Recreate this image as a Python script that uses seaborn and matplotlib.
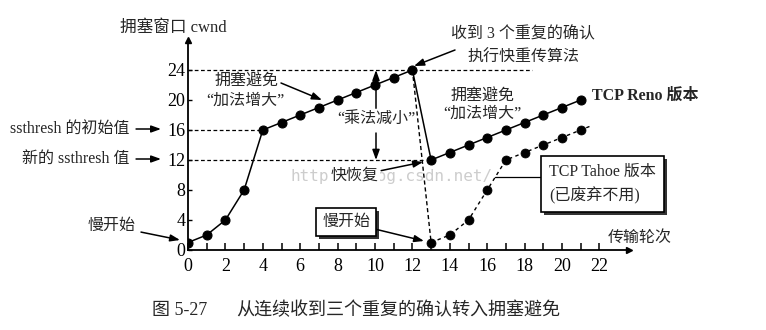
import matplotlib
matplotlib.use("Agg")
import matplotlib.pyplot as plt
from matplotlib.patches import Rectangle
from matplotlib.transforms import IdentityTransform
import seaborn as sns
import numpy as np
import pandas as pd

# ---------------- data ----------------
rounds_reno = list(range(0, 22))
cwnd_reno = [1, 2, 4, 8, 16, 17, 18, 19, 20, 21, 22, 23, 24,
             12, 13, 14, 15, 16, 17, 18, 19, 20]
rounds_tahoe = list(range(13, 22))
cwnd_tahoe = [1, 2, 4, 8, 12, 13, 14, 15, 16]
x_ticks = [0, 2, 4, 6, 8, 10, 12, 14, 16, 18, 20, 22]
y_ticks = [0, 4, 8, 12, 16, 20, 24]
ssthresh_init = 16
ssthresh_new = 12
loss_round = 12

sns.set_theme(style="white")
FONT = ["Liberation Serif", "Noto Sans CJK SC"]
plt.rcParams["font.family"] = FONT
plt.rcParams["axes.unicode_minus"] = False

W, H = 766, 330
fig = plt.figure(figsize=(W / 100, H / 100), dpi=100)
fig.patch.set_facecolor("white")

# pixel mapping: x=0 -> 188px, 18.7 px/unit ; y=0 -> 250px, 7.5 px/unit
X0, SX, Y0, SY = 188, 18.7, 250, 7.5
XMAX, YMAX = 23.6, 28.0
ax = fig.add_axes([X0 / W, (H - Y0) / H, XMAX * SX / W, YMAX * SY / H])
ax.set_facecolor("white")


def px(xp, yp):
    return ((xp - X0) / SX, (Y0 - yp) / SY)


# ---------------- lines ----------------
df_reno = pd.DataFrame({"round": rounds_reno, "cwnd": cwnd_reno})
df_tahoe = pd.DataFrame({"round": rounds_tahoe, "cwnd": cwnd_tahoe})

sns.lineplot(data=df_reno, x="round", y="cwnd", ax=ax, color="black", lw=1.1,
             marker="o", markersize=6.5, mfc="black", mec="black", zorder=5)

# Tahoe: dashed drop from the loss point, then dotted growth
i = rounds_reno.index(loss_round)
df_drop = pd.DataFrame({"round": [rounds_reno[i], rounds_tahoe[0]],
                        "cwnd": [cwnd_reno[i], cwnd_tahoe[0]]})
sns.lineplot(data=df_drop, x="round", y="cwnd", ax=ax, color="black", lw=1.0, zorder=4)
ax.lines[-1].set_linestyle((0, (3, 2)))

ext_x = rounds_tahoe[-1] + 0.6
ext_y = cwnd_tahoe[-1] + 0.6 * (cwnd_tahoe[-1] - cwnd_tahoe[-2])
df_t2 = pd.DataFrame({"round": rounds_tahoe + [ext_x], "cwnd": cwnd_tahoe + [ext_y]})
sns.lineplot(data=df_t2, x="round", y="cwnd", ax=ax, color="black", lw=1.0, zorder=4)
ax.lines[-1].set_linestyle((0, (2.5, 2.5)))
sns.scatterplot(data=df_tahoe, x="round", y="cwnd", ax=ax, color="black",
                s=42, edgecolor="black", zorder=5)

# guide lines
dash = (0, (3, 2))
ax.plot([0, 18.4], [24, 24], color="black", lw=0.9, ls=dash, zorder=2)
ax.plot([0, rounds_reno[4]], [ssthresh_init] * 2, color="black", lw=0.9, ls=dash, zorder=2)
ax.plot([0, 12.6], [ssthresh_new] * 2, color="black", lw=0.9, ls=dash, zorder=2)

# ---------------- axes ----------------
ax.set_xlim(0, XMAX)
ax.set_ylim(0, YMAX)
ax.set_xticks(x_ticks)
ax.set_xticks(range(0, 23), minor=True)
ax.set_yticks(y_ticks)
ax.set_xlabel("")
ax.set_ylabel("")
for s in ["top", "right"]:
    ax.spines[s].set_visible(False)
for s in ["left", "bottom"]:
    ax.spines[s].set_color("black")
    ax.spines[s].set_linewidth(1.3)
ax.tick_params(axis="x", which="both", direction="in", length=5, width=1.1,
               bottom=True, labelsize=13, pad=6, colors="black")
ax.tick_params(axis="y", which="both", direction="in", length=3, width=1.0,
               left=True, labelsize=13, pad=2, colors="black")
ax.plot(1, 0, ">", color="black", ms=5, transform=ax.transAxes, clip_on=False)
ax.plot(0, 1, "^", color="black", ms=5, transform=ax.transAxes, clip_on=False)
ax.grid(False)

FS = 11.5
arrow = dict(arrowstyle="-|>,head_length=0.5,head_width=0.18", color="black",
             lw=1.1, shrinkA=0, shrinkB=0)

# axis labels
ax.text(*px(173, 28), "拥塞窗口 cwnd", ha="center", va="center", fontsize=12,
        family=FONT, clip_on=False)
ax.text(*px(640, 238), "传输轮次", ha="center", va="center", fontsize=FS,
        family=FONT, clip_on=False)

# left annotations
ax.annotate("ssthresh 的初始值", xy=px(161, 129), xytext=px(130, 129),
            ha="right", va="center", fontsize=FS, family=FONT,
            arrowprops=dict(arrow, shrinkA=2), annotation_clip=False)
ax.annotate("新的 ssthresh 值", xy=px(161, 159), xytext=px(130, 159),
            ha="right", va="center", fontsize=FS, family=FONT,
            arrowprops=dict(arrow, shrinkA=2), annotation_clip=False)
ax.annotate("慢开始", xy=px(180, 240), xytext=px(135, 226),
            ha="right", va="center", fontsize=FS, family=FONT,
            arrowprops=dict(arrow, shrinkA=2), annotation_clip=False)

# congestion avoidance 1
ax.text(*px(247, 82), "拥塞避免", ha="center", va="center", fontsize=FS, family=FONT)
ax.text(*px(245, 101), "“加法增大”", ha="center", va="center", fontsize=FS, family=FONT)
ax.annotate("", xy=px(322, 100), xytext=px(281, 83), arrowprops=arrow,
            annotation_clip=False)

# fast retransmit
ax.text(*px(523, 34), "收到 3 个重复的确认", ha="center", va="center", fontsize=FS,
        family=FONT, clip_on=False)
ax.text(*px(523, 58), "执行快重传算法", ha="center", va="center", fontsize=FS,
        family=FONT, clip_on=False)
ax.annotate("", xy=px(414, 66), xytext=px(455, 50), arrowprops=arrow,
            annotation_clip=False)

# congestion avoidance 2
ax.text(*px(483, 97), "拥塞避免", ha="center", va="center", fontsize=FS, family=FONT)
ax.text(*px(482, 114), "“加法增大”", ha="center", va="center", fontsize=FS, family=FONT)
ax.text(*px(592, 96), "TCP Reno 版本", ha="left", va="center", fontsize=FS,
        family=FONT, fontweight="bold", clip_on=False)

# multiplicative decrease
xm = px(376, 0)[0]
ax.annotate("", xy=(xm, 24), xytext=(xm, 18.9), arrowprops=arrow)
ax.annotate("", xy=(xm, ssthresh_new), xytext=(xm, 15.6), arrowprops=arrow)
ax.text(xm, px(0, 119)[1], "“乘法减小”", ha="center", va="center", fontsize=FS,
        family=FONT, bbox=dict(fc="white", ec="none", pad=0.5), zorder=6)

# watermark
ax.text(*px(290, 176), "http://blog.csdn.net/", ha="left", va="center",
        fontsize=11.5, family="DejaVu Sans Mono", color="#cdcdcd", zorder=1)

# fast recovery
ax.annotate("快恢复", xy=px(423, 162), xytext=px(355, 176), ha="center",
            va="center", fontsize=FS, family=FONT, zorder=7,
            bbox=dict(boxstyle="square,pad=0.05", fc="white", ec="none"),
            arrowprops=dict(arrow, shrinkA=1), annotation_clip=False)

# slow start box
slow_box = ax.annotate("慢开始", xy=px(424, 241), xytext=px(346, 222), ha="center",
                       va="center", fontsize=FS, family=FONT, zorder=7,
                       bbox=dict(boxstyle="square,pad=0.35", fc="white", ec="black", lw=1.2),
                       arrowprops=dict(arrow, shrinkA=0), annotation_clip=False)

# Tahoe box
ax.plot(*zip(px(495, 177), px(542, 177)), color="black", lw=0.9, zorder=6)
tx = px(549, 184)
tahoe_box = ax.text(tx[0], tx[1], "TCP Tahoe 版本\n(已废弃不用)", ha="left", va="center",
                    fontsize=FS, family=FONT, linespacing=1.5, zorder=7, clip_on=False,
                    bbox=dict(boxstyle="square,pad=0.5", fc="white", ec="black", lw=1.2))

# caption
fig.text(152 / W, 1 - 310 / H, "图 5-27", ha="left", va="center", fontsize=13,
         family=FONT)
fig.text(236 / W, 1 - 310 / H, "从连续收到三个重复的确认转入拥塞避免", ha="left",
         va="center", fontsize=13, family=FONT)

# drop shadows behind the two boxes
fig.canvas.draw()
for t in (slow_box, tahoe_box):
    bb = t.get_bbox_patch().get_window_extent()
    ax.add_patch(Rectangle((bb.x0 + 3, bb.y0 - 3), bb.width, bb.height,
                           transform=IdentityTransform(), fc="#333333",
                           ec="none", zorder=6.5, clip_on=False))

fig.savefig("out.png", dpi=100, facecolor="white")
